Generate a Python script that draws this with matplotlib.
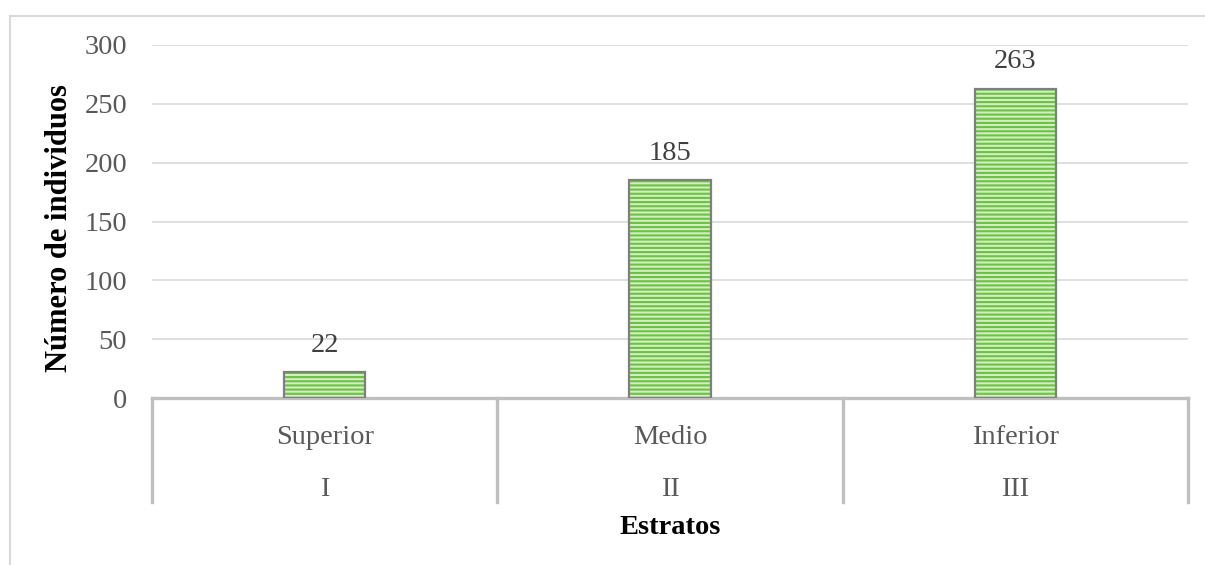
import matplotlib.pyplot as plt
from matplotlib.lines import Line2D
import matplotlib.transforms as mtransforms

# data
estratos = ['Superior', 'Medio', 'Inferior']
romanos = ['I', 'II', 'III']
individuos = [22, 185, 263]
y_ticks = [0, 50, 100, 150, 200, 250, 300]

plt.rcParams['font.family'] = ['Liberation Serif', 'DejaVu Serif']
plt.rcParams['hatch.linewidth'] = 1.5

FS = 20.5
W, H = 1205, 565
fig = plt.figure(figsize=(W / 100, H / 100), dpi=100)
ax = fig.add_axes([152 / W, 1 - 398 / H, 1036 / W, 353 / H])

x = range(len(estratos))
# striped fill, then the gray outline on top
ax.bar(x, individuos, width=0.235, color='#d3eec0', edgecolor='#6cc244',
       hatch='----', linewidth=0, zorder=2)
ax.bar(x, individuos, width=0.235, fill=False, edgecolor='#7f7f7f',
       linewidth=1.6, zorder=3)

for xi, v in zip(x, individuos):
    ax.text(xi, v + 23, str(v), ha='center', va='center',
            fontsize=FS, color='#404040')

ax.set_xlim(-0.5, 2.5)
ax.set_ylim(0, 300)
ax.set_yticks(y_ticks)
ax.tick_params(axis='y', length=0, pad=18, labelsize=FS, labelcolor='#595959')
ax.set_xticks([])
ax.grid(axis='y', color='#d9d9d9', linewidth=1.2, zorder=0)
ax.set_axisbelow(True)
for s in ['top', 'right', 'left']:
    ax.spines[s].set_visible(False)
ax.spines['bottom'].set_color('#bfbfbf')
ax.spines['bottom'].set_linewidth(2.4)

# multi-level category axis
trans = mtransforms.blended_transform_factory(ax.transData, fig.transFigure)
for sep in [-0.5, 0.5, 1.5, 2.5]:
    ax.add_line(Line2D([sep, sep], [1 - 398 / H, 1 - 502 / H], transform=trans,
                       color='#bfbfbf', linewidth=2.4, clip_on=False))
for xi, name, rom in zip(x, estratos, romanos):
    ax.text(xi, 1 - 437 / H, name, transform=trans, ha='center', va='center',
            fontsize=FS, color='#595959')
    ax.text(xi, 1 - 490 / H, rom, transform=trans, ha='center', va='center',
            fontsize=FS, color='#595959')

fig.text(670 / W, 1 - 528 / H, 'Estratos', ha='center', va='center',
         fontsize=FS, fontweight='bold', color='black')
fig.text(60 / W, 1 - 228 / H, 'Número de individuos', ha='center', va='center',
         rotation=90, fontsize=22, fontweight='bold', color='black')

# chart border (left and top edges visible)
fig.add_artist(Line2D([10 / W, 10 / W], [0, 1 - 16 / H], transform=fig.transFigure,
                      color='#d9d9d9', linewidth=1.5))
fig.add_artist(Line2D([10 / W, 1], [1 - 16 / H, 1 - 16 / H], transform=fig.transFigure,
                      color='#d9d9d9', linewidth=1.5))

fig.savefig('out.png', dpi=100)
